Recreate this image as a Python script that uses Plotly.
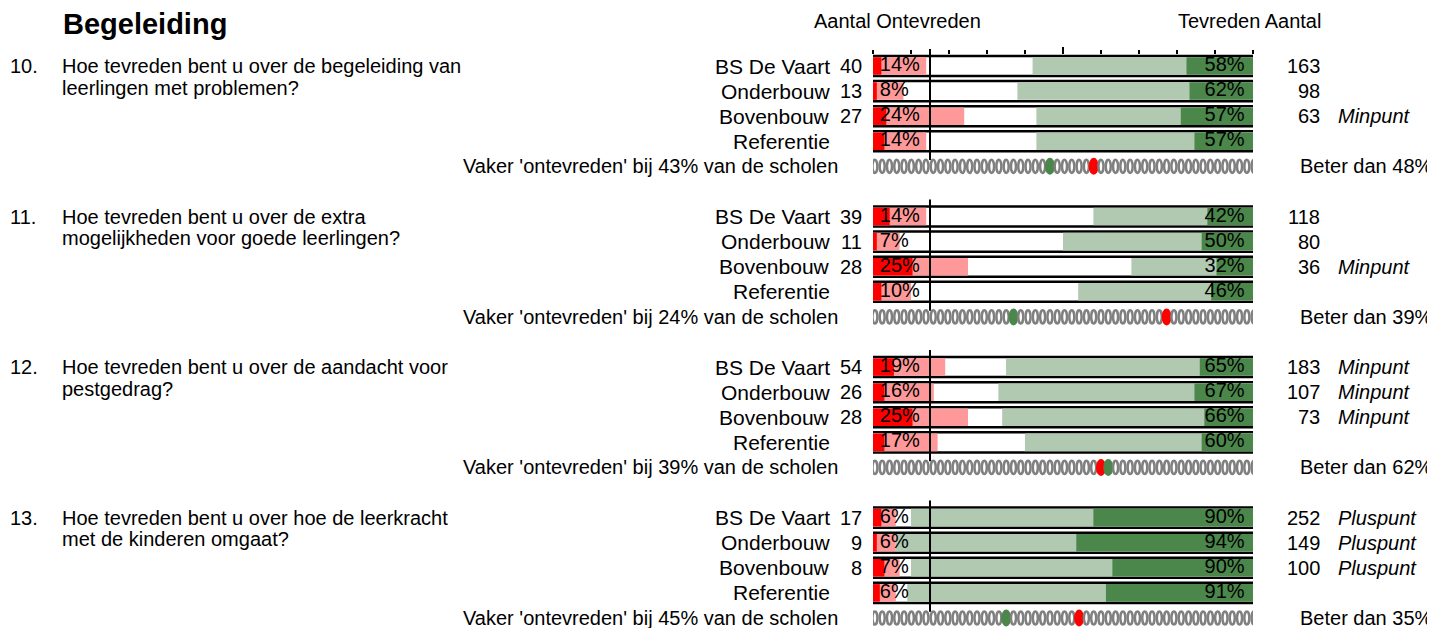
"""
Begeleiding - tevredenheid per vraag, horizontale balken met Plotly
"""

import plotly.graph_objects as go

# --- data -----------------------------------------------------------------
questions = [
    ("10.", "Hoe tevreden bent u over de begeleiding van", "leerlingen met problemen?"),
    ("11.", "Hoe tevreden bent u over de extra", "mogelijkheden voor goede leerlingen?"),
    ("12.", "Hoe tevreden bent u over de aandacht voor", "pestgedrag?"),
    ("13.", "Hoe tevreden bent u over hoe de leerkracht", "met de kinderen omgaat?"),
]
groups = ["BS De Vaart", "Onderbouw", "Bovenbouw", "Referentie"]

# % ontevreden (light red) and % zeer ontevreden (dark red)
ontevreden = [[14, 8, 24, 14], [14, 7, 25, 10], [19, 16, 25, 17], [6, 6, 7, 6]]
zeer_ontevreden = [[2.2, 1, 3.5, 3], [4.4, 1, 10.4, 2.2], [5.5, 3, 10.4, 3], [2.2, 1, 3, 1.8]]
# % tevreden (light green) and % zeer tevreden (dark green)
tevreden = [[58, 62, 57, 57], [42, 50, 32, 46], [65, 67, 66, 60], [90, 94, 90, 91]]
zeer_tevreden = [[17.5, 16.7, 19, 15.4], [12, 13.5, 9.6, 11], [14, 15.4, 12.8, 13.5], [42, 46.5, 37, 38.7]]

aantal_ontevreden = [[40, 13, 27, None], [39, 11, 28, None], [54, 26, 28, None], [17, 9, 8, None]]
aantal_tevreden = [[163, 98, 63, None], [118, 80, 36, None], [183, 107, 73, None], [252, 149, 100, None]]
oordeel = [["", "", "Minpunt", ""], ["", "", "Minpunt", ""],
           ["Minpunt", "Minpunt", "Minpunt", ""], ["Pluspunt", "Pluspunt", "Pluspunt", ""]]

vaker_ontevreden = [43, 24, 39, 45]
beter_dan = [48, 39, 62, 35]
# positions of the school in the row of 53 schools
n_scholen = 53
pos_green = [24, 19, 32, 18]
pos_red = [30, 40, 31, 28]

# --- layout constants (screen pixels) --------------------------------------
SCREEN_W, SCREEN_H = 1435, 628
OFF = 8  # default body margin of the html page
W, H = SCREEN_W - OFF, SCREEN_H - OFF
BAR_X0, BAR_X1 = 873, 1253
ROW0, ROW_STEP = 66, 25.09
FONT = "Arial, Liberation Sans, sans-serif"

LIGHT_RED = "#ff9999"
DARK_RED = "#ff0000"
LIGHT_GREEN = "#b0c9b0"
DARK_GREEN = "#4b874b"
GREY = "#808080"


def px(x):
    return (x - OFF) / W


def row_of(y):
    return (y - ROW0) / ROW_STEP


fig = go.Figure()

rows = []
lr, dr, lg_base, lg, dg_base, dg = [], [], [], [], [], []
for g in range(len(questions)):
    for r in range(len(groups)):
        rows.append(6 * g + r)
        lr.append(ontevreden[g][r])
        dr.append(zeer_ontevreden[g][r])
        lg_base.append(100 - tevreden[g][r])
        lg.append(tevreden[g][r])
        dg_base.append(100 - zeer_tevreden[g][r])
        dg.append(zeer_tevreden[g][r])

# outline boxes
fig.add_trace(go.Bar(
    orientation="h", y=rows, x=[100.8] * len(rows), base=[-0.4] * len(rows),
    width=0.8, marker=dict(color="white", line=dict(color="black", width=2.5)),
    hoverinfo="skip"))
for base, vals, col in [([0] * len(rows), lr, LIGHT_RED),
                        ([0] * len(rows), dr, DARK_RED),
                        (lg_base, lg, LIGHT_GREEN),
                        (dg_base, dg, DARK_GREEN)]:
    fig.add_trace(go.Bar(
        orientation="h", y=rows, x=vals, base=base, width=0.7,
        marker=dict(color=col, line=dict(width=0)), hoverinfo="skip"))

# percentage labels
fig.add_trace(go.Scatter(
    x=[1.8] * len(rows), y=rows, mode="text",
    text=[f"{v:.0f}%" for v in lr], textposition="middle right",
    textfont=dict(family=FONT, size=20, color="black"), hoverinfo="skip"))
fig.add_trace(go.Scatter(
    x=[97.8] * len(rows), y=rows, mode="text",
    text=[f"{v:.0f}%" for v in lg], textposition="middle left",
    textfont=dict(family=FONT, size=20, color="black"), hoverinfo="skip"))

# 15% reference lines
vx, vy = [], []
for g in range(len(questions)):
    vx += [15, 15, None]
    vy += [6 * g - 0.68, 6 * g + 3.75, None]
fig.add_trace(go.Scatter(x=vx, y=vy, mode="lines",
                         line=dict(color="black", width=2), hoverinfo="skip"))

# row of schools
shapes = []
for g in range(len(questions)):
    y = 6 * g + 4
    for i in range(n_scholen):
        x = 0.5 + i * 99.8 / (n_scholen - 1)
        if i == pos_green[g] or i == pos_red[g]:
            col = DARK_GREEN if i == pos_green[g] else DARK_RED
            shapes.append(dict(type="circle", xref="x", yref="y", xsizemode="pixel",
                               ysizemode="pixel", xanchor=x, yanchor=y,
                               x0=-5, x1=5, y0=-8.5, y1=8.5,
                               fillcolor=col, line=dict(color=col, width=0)))
        else:
            shapes.append(dict(type="circle", xref="x", yref="y", xsizemode="pixel",
                               ysizemode="pixel", xanchor=x, yanchor=y,
                               x0=-2.5, x1=2.5, y0=-6.6, y1=6.6,
                               line=dict(color=GREY, width=2.5)))

annotations = []


def text(x, y, s, anchor="left", size=20, **kw):
    annotations.append(dict(x=x, y=y, xref="paper", yref="y", text=s, showarrow=False,
                            xanchor=anchor, yanchor="middle",
                            font=dict(family=FONT, size=size, color="black"), **kw))


text(px(61), row_of(24), "<b>Begeleiding</b>", size=29)
text(px(812), row_of(21), "Aantal Ontevreden")
text(px(1323), row_of(21), "Tevreden Aantal", anchor="right")

for g, (num, line1, line2) in enumerate(questions):
    k = 6 * g
    text(px(8), k, num)
    text(px(60), k, line1)
    text(px(60), k + 0.86, line2)
    for r, name in enumerate(groups):
        text(px(832), k + r, name, anchor="right", size=21)
        if aantal_ontevreden[g][r] is not None:
            text(px(864), k + r, str(aantal_ontevreden[g][r]), anchor="right")
        if aantal_tevreden[g][r] is not None:
            text(px(1322), k + r, str(aantal_tevreden[g][r]), anchor="right")
        if oordeel[g][r]:
            text(px(1336), k + r, f"<i>{oordeel[g][r]}</i>")
    text(px(840), k + 4, f"Vaker 'ontevreden' bij {vaker_ontevreden[g]}% van de scholen",
         anchor="right")
    text(px(1298), k + 4, f"Beter dan {beter_dan[g]}%")

fig.update_layout(
    width=W, height=H,
    margin=dict(l=0, r=0, t=0, b=0),
    paper_bgcolor="white", plot_bgcolor="white",
    barmode="overlay", showlegend=False,
    shapes=shapes, annotations=annotations,
    xaxis=dict(
        domain=[px(BAR_X0), px(BAR_X1)], range=[0, 100],
        side="top", anchor="free", position=1 - (54 - OFF) / H,
        showgrid=False, zeroline=False, showline=False, showticklabels=False,
        ticks="outside", tickvals=[50], ticklen=7, tickwidth=2, tickcolor="black",
        minor=dict(ticks="outside", dtick=10, tick0=0, ticklen=4, tickwidth=2,
                   tickcolor="black", showgrid=False),
    ),
    yaxis=dict(
        domain=[0, 1], range=[row_of(SCREEN_H), row_of(OFF)], visible=False,
        showgrid=False, zeroline=False,
    ),
)

fig.write_html("out.html")
